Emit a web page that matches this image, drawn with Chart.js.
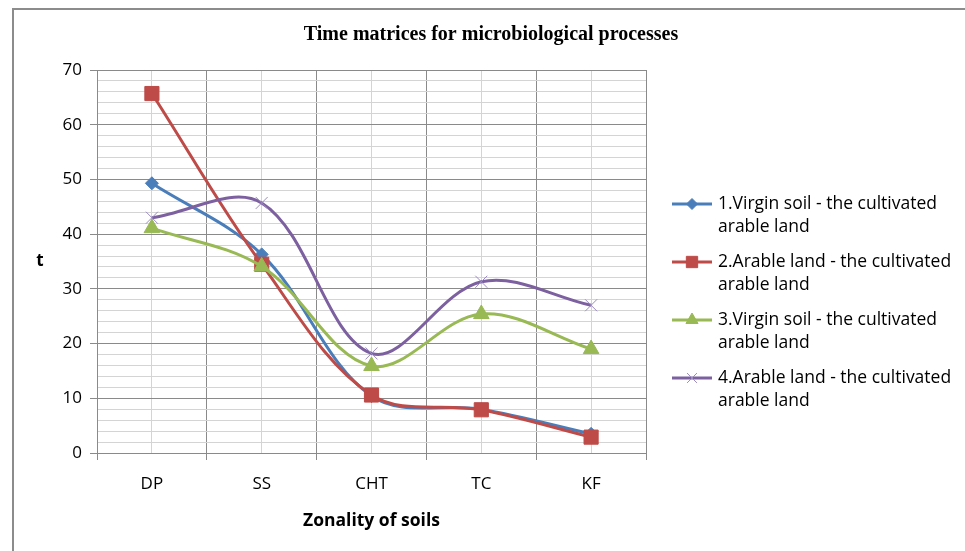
<!DOCTYPE html>
<html lang="en">
<head>
  <meta charset="UTF-8" />
  <title>Time matrices for microbiological processes</title>
  <style>
    body {
      margin: 0;
      background: white;
      overflow: hidden;
    }
    .wrap {
      position: relative;
      width: 965px;
      height: 551px;
    }
    .frame {
      position: absolute;
      left: 12px;
      top: 8px;
      width: 980px;
      height: 600px;
      border: 2px solid #8c8c8c;
      pointer-events: none;
    }
  </style>
  <script src="https://cdn.jsdelivr.net/npm/chart.js"></script>
</head>
<body>
  <div class="wrap">
    <canvas id="timeChart" width="965" height="551"></canvas>
    <div class="frame"></div>
  </div>

  <script>
    const chartTitle = "Time matrices for microbiological processes";
    const zones = ["DP", "SS", "CHT", "TC", "KF"];
    const seriesNames = [
      ["1.Virgin soil - the cultivated", "arable land"],
      ["2.Arable land - the cultivated", "arable land"],
      ["3.Virgin soil - the cultivated", "arable land"],
      ["4.Arable land - the cultivated", "arable land"]
    ];
    const virginCult1 = [49.3, 36.3, 10.4, 8.0, 3.5];
    const arableCult2 = [65.7, 34.5, 10.6, 7.9, 2.9];
    const virginCult3 = [41.1, 34.1, 15.9, 25.4, 19.0];
    const arableCult4 = [43.0, 45.7, 18.2, 31.3, 27.0];

    const majorGrid = "#8a8a8a";
    const minorGrid = "#d4d4d4";
    const tickFont = { family: "Open Sans", size: 17 };

    // title, the "t" label and the two-line legend on the right
    const extras = {
      id: "extras",
      afterDraw(chart) {
        const ctx = chart.ctx;
        ctx.save();
        ctx.fillStyle = "#000";
        ctx.textBaseline = "middle";
        ctx.textAlign = "center";
        ctx.font = "bold 20px 'Liberation Serif'";
        ctx.fillText(chartTitle, 491, 35);
        ctx.font = "bold 17px 'Open Sans'";
        ctx.fillText("t", 40, 261);

        const x0 = chart.chartArea.right + 26;
        let y = 204;
        chart.data.datasets.forEach((ds, i) => {
          ctx.strokeStyle = ds.borderColor;
          ctx.lineWidth = 3;
          ctx.beginPath();
          ctx.moveTo(x0, y);
          ctx.lineTo(x0 + 40, y);
          ctx.stroke();
          ctx.fillStyle = ds.pointBackgroundColor;
          ctx.strokeStyle = ds.pointBorderColor;
          ctx.lineWidth = ds.pointBorderWidth;
          Chart.helpers.drawPoint(ctx, {
            pointStyle: ds.pointStyle,
            radius: ds.legendRadius,
            borderWidth: ds.pointBorderWidth
          }, x0 + 20, y);
          ctx.fillStyle = "#000";
          ctx.font = "17.5px 'Open Sans'";
          ctx.textAlign = "left";
          seriesNames[i].forEach((line, k) => ctx.fillText(line, x0 + 46, y + k * 23));
          y += 58;
        });
        ctx.restore();
      }
    };

    function series(data, color, style, radius, legendRadius, order, pointColor) {
      return {
        data: data,
        borderColor: color,
        borderWidth: 3,
        tension: 0.35,
        pointStyle: style,
        pointRadius: radius,
        legendRadius: legendRadius,
        pointBackgroundColor: pointColor || color,
        pointBorderColor: pointColor || color,
        pointBorderWidth: 1,
        order: order
      };
    }

    new Chart(document.getElementById("timeChart"), {
      type: "line",
      data: {
        labels: zones,
        datasets: [
          series(virginCult1, "#4a7ebb", "rectRot", 6.5, 5.5, 4),
          series(arableCult2, "#be4b48", "rect", 10, 8, 3),
          series(virginCult3, "#98b954", "triangle", 9, 7, 2),
          series(arableCult4, "#7d60a0", "crossRot", 8.5, 7, 1, "#9b8bc0")
        ]
      },
      options: {
        responsive: false,
        animation: false,
        layout: { padding: { left: 18, right: 319, top: 70, bottom: 0 } },
        plugins: {
          legend: { display: false },
          tooltip: { enabled: false },
          title: { display: false }
        },
        scales: {
          x: {
            type: "category",
            offset: true,
            grid: { offset: true, color: majorGrid, tickColor: majorGrid, tickLength: 7 },
            border: { color: majorGrid },
            ticks: { color: "#000", font: tickFont, padding: 14 },
            title: {
              display: true,
              text: "Zonality of soils",
              color: "#000",
              font: { family: "Open Sans", size: 17.5, weight: "bold" },
              padding: { top: 0, bottom: 19 }
            },
            afterFit: s => { s.height = 98; }
          },
          x2: {
            type: "category",
            labels: zones,
            position: "bottom",
            offset: true,
            grid: { offset: false, color: minorGrid, drawTicks: false },
            border: { display: false },
            ticks: { display: false },
            afterFit: s => { s.height = 0; }
          },
          y: {
            min: 0,
            max: 70,
            grid: {
              color: c => c.tick.value % 10 === 0 ? majorGrid : minorGrid,
              tickColor: c => c.tick.value % 10 === 0 ? majorGrid : "rgba(0,0,0,0)",
              tickLength: 7
            },
            border: { color: majorGrid },
            ticks: {
              stepSize: 2,
              autoSkip: false,
              color: "#000",
              font: tickFont,
              padding: 8,
              callback: v => v % 10 === 0 ? v : ""
            },
            afterFit: s => { s.width = 79; }
          }
        }
      },
      plugins: [extras]
    });
  </script>
</body>
</html>
